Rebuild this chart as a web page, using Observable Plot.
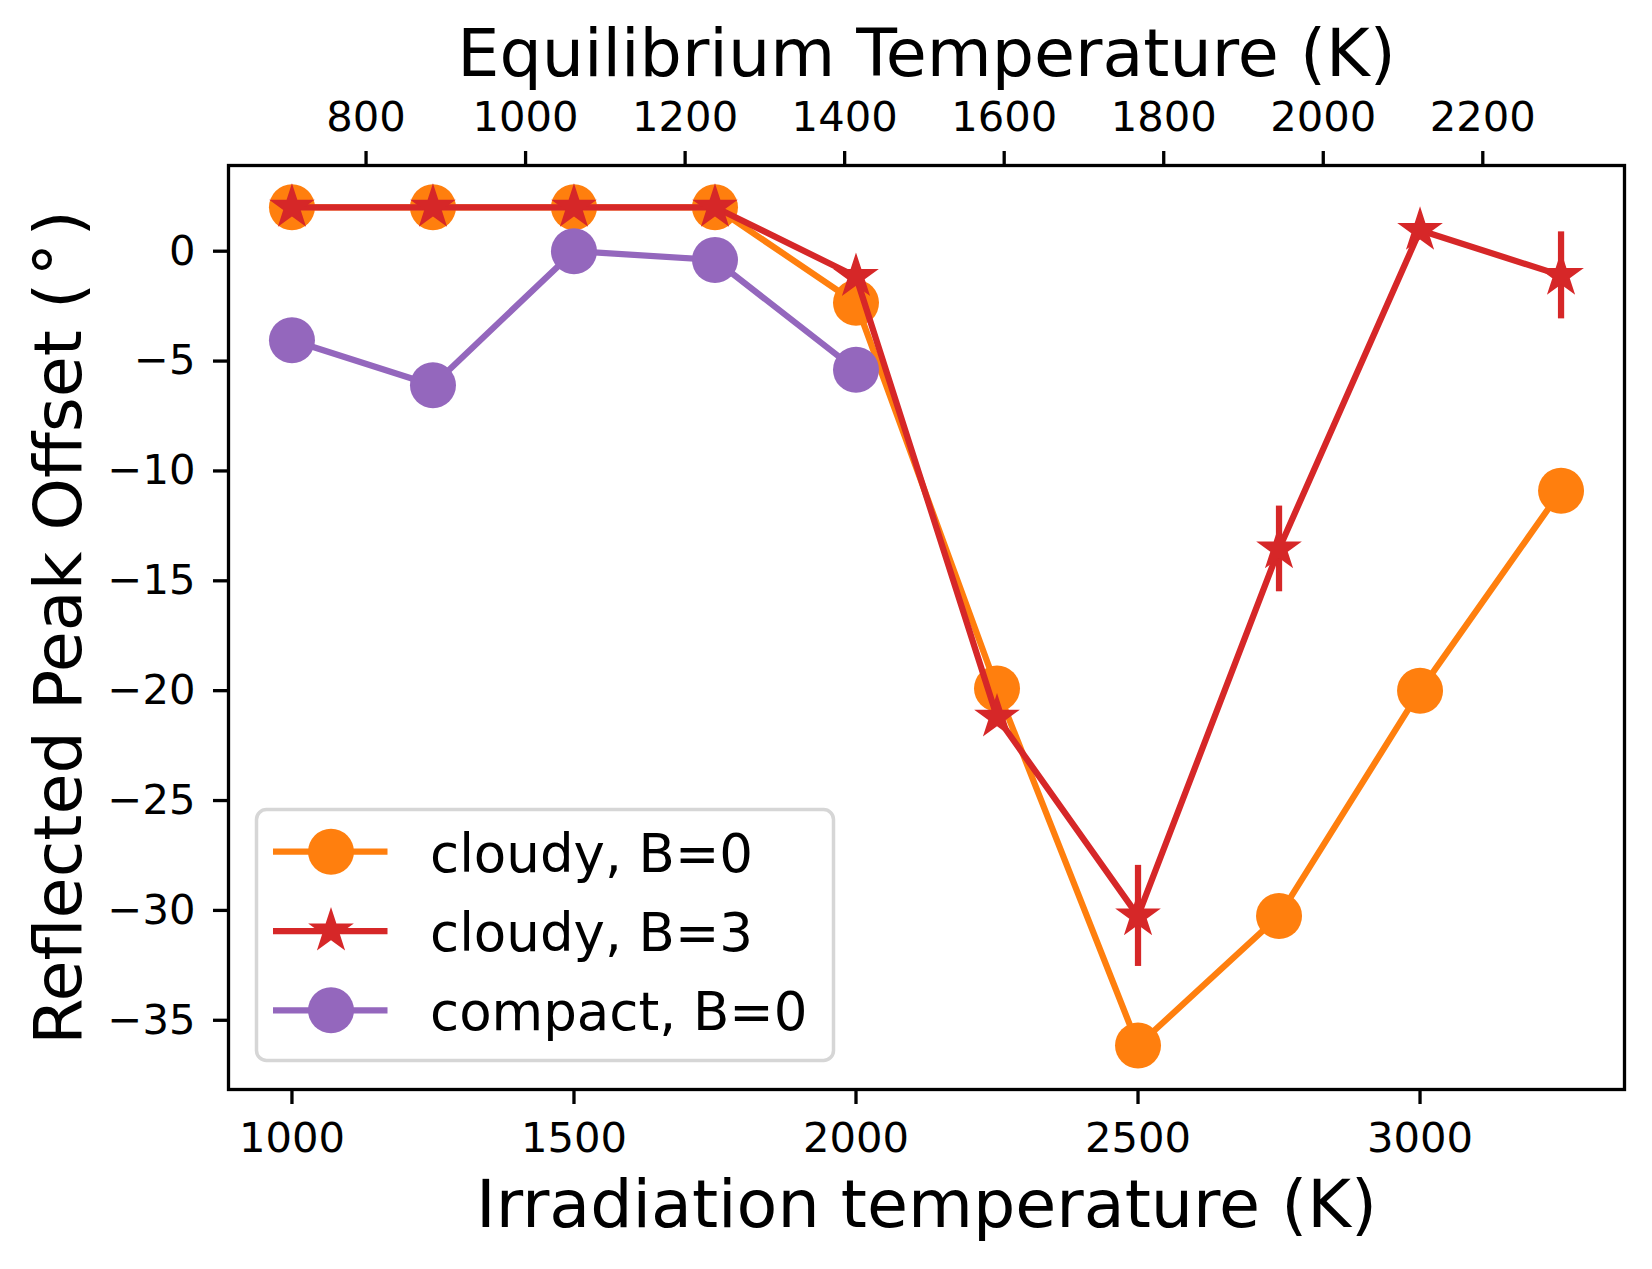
<!DOCTYPE html>
<html>
<head>
<meta charset="utf-8">
<script src="https://cdn.jsdelivr.net/npm/d3@7"></script>
<script src="https://cdn.jsdelivr.net/npm/@observablehq/plot@0.6"></script>
<style>
  body { margin: 0; background: #fff; }
  #wrap { position: relative; width: 1652px; height: 1269px; font-family: "DejaVu Sans", sans-serif; }
  #legend { position: absolute; left: 0; top: 0; pointer-events: none; }
</style>
</head>
<body>
<div id="wrap"></div>
<script>
// ---- data ----
const tIrr = [1000, 1250, 1500, 1750, 2000, 2250, 2500, 2750, 3000, 3250];
const cloudyB0 = [2, 2, 2, 2, -2.35, -19.9, -36.15, -30.25, -20.0, -10.9];
const cloudyB3 = [2, 2, 2, 2, -1.15, -21.2, -30.25, -13.55, 0.95, -1.1];
const cloudyB3Err = [0, 0, 0, 0, 0, 0, 2.3, 1.95, 0, 1.98];
const tCompact = [1000, 1250, 1500, 1750, 2000];
const compactB0 = [-4.05, -6.1, 0, -0.4, -5.4];

const xTicks = [1000, 1500, 2000, 2500, 3000];
const yTicks = [0, -5, -10, -15, -20, -25, -30, -35];
const eqTicks = [800, 1000, 1200, 1400, 1600, 1800, 2000, 2200];

const seriesNames = ["cloudy, B=0", "cloudy, B=3", "compact, B=0"];
const seriesColors = ["#ff7f0e", "#d62728", "#9467bd"];
const seriesSymbols = ["circle", "star", "circle"];

const xLabel = "Irradiation temperature (K)";
const topLabel = "Equilibrium Temperature (K)";
const yLabel = "Reflected Peak Offset (\u200A°\u200A)";

// ---- build tables ----
const seriesT = [tIrr, tIrr, tCompact];
const seriesV = [cloudyB0, cloudyB3, compactB0];
const seriesE = [null, cloudyB3Err, null];
const series = seriesNames.map((name, k) => ({
  name, color: seriesColors[k], symbol: seriesSymbols[k],
  rows: seriesT[k].map((t, i) => ({t, v: seriesV[k][i], e: seriesE[k] ? seriesE[k][i] : 0}))
}));

const LW = 6.25;        // line width (1.5pt @300dpi)
const CIRCLE_R = 23;    // circle marker radius
const STAR_R = 14.35;   // Plot r for d3 star -> outer radius ~24
const fmt = d => d < 0 ? "\u2212" + (-d) : String(d);

const marks = [];
for (const s of series) {
  const errRows = s.rows.filter(d => d.e > 0);
  if (errRows.length) {
    marks.push(Plot.ruleX(errRows, {x: "t", y1: d => d.v - d.e, y2: d => d.v + d.e, stroke: s.color, strokeWidth: LW}));
  }
  marks.push(Plot.line(s.rows, {x: "t", y: "v", stroke: s.color, strokeWidth: LW}));
  marks.push(Plot.dot(s.rows, {x: "t", y: "v", fill: s.color, symbol: s.symbol, r: s.symbol === "star" ? STAR_R : CIRCLE_R}));
}

marks.push(Plot.frame({stroke: "black", strokeWidth: 3.3}));
marks.push(Plot.axisX(xTicks, {anchor: "bottom", tickSize: 15, tickPadding: 18, fontSize: 41.7, strokeWidth: 3.3, tickFormat: fmt, label: null}));
marks.push(Plot.axisX(eqTicks.map(e => e * Math.SQRT2), {anchor: "top", tickSize: 15, tickPadding: 20, fontSize: 41.7, strokeWidth: 3.3, tickFormat: d => String(Math.round(d / Math.SQRT2)), label: null}));
marks.push(Plot.axisY(yTicks, {anchor: "left", tickSize: 15, tickPadding: 18, fontSize: 41.7, strokeWidth: 3.3, tickFormat: fmt, label: null}));
marks.push(Plot.text([xLabel], {frameAnchor: "bottom", text: d => d, textAnchor: "middle", lineAnchor: "bottom", dy: 137, fontSize: 66.7, fill: "black"}));
marks.push(Plot.text([topLabel], {frameAnchor: "top", text: d => d, textAnchor: "middle", lineAnchor: "bottom", dy: -90, fontSize: 66.7, fill: "black"}));
marks.push(Plot.text([yLabel], {frameAnchor: "left", text: d => d, rotate: -90, textAnchor: "middle", lineAnchor: "bottom", dx: -148, fontSize: 66.7, fill: "black"}));

const chart = Plot.plot({
  width: 1652,
  height: 1269,
  marginLeft: 228,
  marginRight: 28,
  marginTop: 165,
  marginBottom: 180,
  style: {fontFamily: "DejaVu Sans, sans-serif", fontSize: "41.7px", background: "white", color: "black"},
  x: {type: "linear", domain: [887.5, 3362.5]},
  y: {type: "linear", domain: [-38.15, 3.9]},
  marks
});
document.getElementById("wrap").appendChild(chart);

// ---- legend overlay (inside axes, lower left) ----
const leg = d3.select("#wrap").append("svg").attr("id", "legend")
  .attr("width", 1652).attr("height", 1269);
leg.append("rect")
  .attr("x", 256.5).attr("y", 809.5).attr("width", 577).attr("height", 251)
  .attr("rx", 10).attr("ry", 10)
  .attr("fill", "rgba(255,255,255,0.8)")
  .attr("stroke", "#d6d6d6").attr("stroke-width", 3.5);
series.forEach((s, i) => {
  const cy = 851.7 + i * 79.3;
  const g = leg.append("g");
  g.append("line").attr("x1", 273).attr("x2", 387.5).attr("y1", cy).attr("y2", cy)
    .attr("stroke", s.color).attr("stroke-width", LW);
  if (s.symbol === "star") {
    g.append("path").attr("d", d3.symbol(d3.symbolStar, STAR_R * STAR_R * Math.PI)())
      .attr("transform", `translate(331,${cy})`).attr("fill", s.color);
  } else {
    g.append("circle").attr("cx", 331).attr("cy", cy).attr("r", CIRCLE_R).attr("fill", s.color);
  }
  g.append("text").attr("x", 430).attr("y", cy + 20)
    .attr("font-family", "DejaVu Sans, sans-serif").attr("font-size", 53)
    .attr("fill", "black").text(s.name);
});
</script>
</body>
</html>
